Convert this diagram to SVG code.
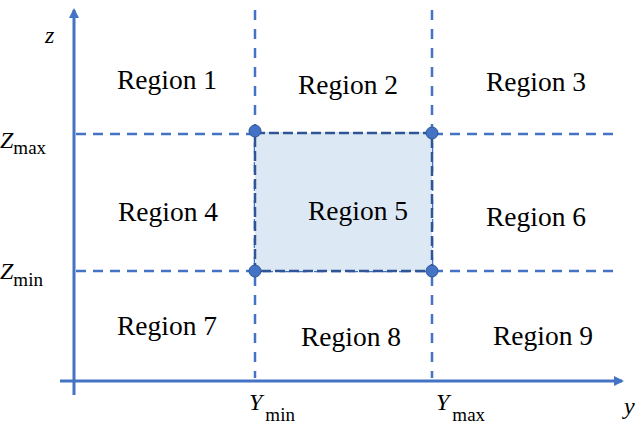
<svg xmlns="http://www.w3.org/2000/svg" width="640" height="424" viewBox="0 0 640 424">
<style>
.dash{stroke:#4472c4;stroke-width:2.5;stroke-dasharray:10 7;fill:none}
.axis{stroke:#4472c4;stroke-width:3;fill:none}
.pt{fill:#4472c4;stroke:#2f5597;stroke-width:1}
.t{font-family:'Liberation Serif','Times New Roman','DejaVu Serif',serif;fill:#000}
</style>
<defs>
<marker id="ah" markerWidth="10" markerHeight="10" refX="8" refY="5" orient="auto" markerUnits="userSpaceOnUse">
<path d="M0,0 L10,5 L0,10 Z" fill="#4472c4"/>
</marker>
</defs>
<rect width="640" height="424" fill="#fff"/>
<g id="connectors">
<line class="axis" x1="74" y1="395" x2="74" y2="10" marker-end="url(#ah)"/>
<line class="axis" x1="60" y1="381" x2="622" y2="381" marker-end="url(#ah)"/>
<line class="dash" x1="255" y1="10" x2="255" y2="378" style="stroke-dasharray:10 9"/>
<line class="dash" x1="432" y1="10" x2="432" y2="378" style="stroke-dasharray:10 9"/>
<line class="dash" x1="76" y1="134" x2="618" y2="134"/>
<line class="dash" x1="76" y1="271" x2="618" y2="271"/>
</g>
<g id="region5box">
<rect x="255" y="133" width="177" height="138" fill="#dde8f5" stroke="#2f5597" stroke-width="2.5" stroke-dasharray="10 4"/>
<circle class="pt" cx="255" cy="131" r="6"/>
<circle class="pt" cx="432" cy="133" r="6"/>
<circle class="pt" cx="255" cy="271" r="6"/>
<circle class="pt" cx="432" cy="271" r="6"/>
</g>
<g class="t" font-size="27.5" text-anchor="middle">
<g id="region1"><text x="167" y="89">Region 1</text></g>
<g id="region2"><text x="348" y="94">Region 2</text></g>
<g id="region3"><text x="536" y="91">Region 3</text></g>
<g id="region4"><text x="168" y="221">Region 4</text></g>
<g id="region5"><text x="358" y="220">Region 5</text></g>
<g id="region6"><text x="536" y="226">Region 6</text></g>
<g id="region7"><text x="167" y="335">Region 7</text></g>
<g id="region8"><text x="351" y="346">Region 8</text></g>
<g id="region9"><text x="543" y="345">Region 9</text></g>
</g>
<g id="labels" class="t" font-size="24">
<text x="45" y="43" font-style="italic">z</text>
<text x="0" y="148" font-style="italic">Z<tspan font-style="normal" font-size="19" dx="0" dy="6">max</tspan></text>
<text x="0" y="279" font-style="italic">Z<tspan font-style="normal" font-size="19" dx="0" dy="7">min</tspan></text>
<text x="249" y="410" font-style="italic">Y<tspan font-style="normal" font-size="19" dx="3" dy="11">min</tspan></text>
<text x="436" y="410" font-style="italic">Y<tspan font-style="normal" font-size="19" dx="3" dy="11">max</tspan></text>
<text x="624" y="414" font-style="italic">y</text>
</g>
</svg>
